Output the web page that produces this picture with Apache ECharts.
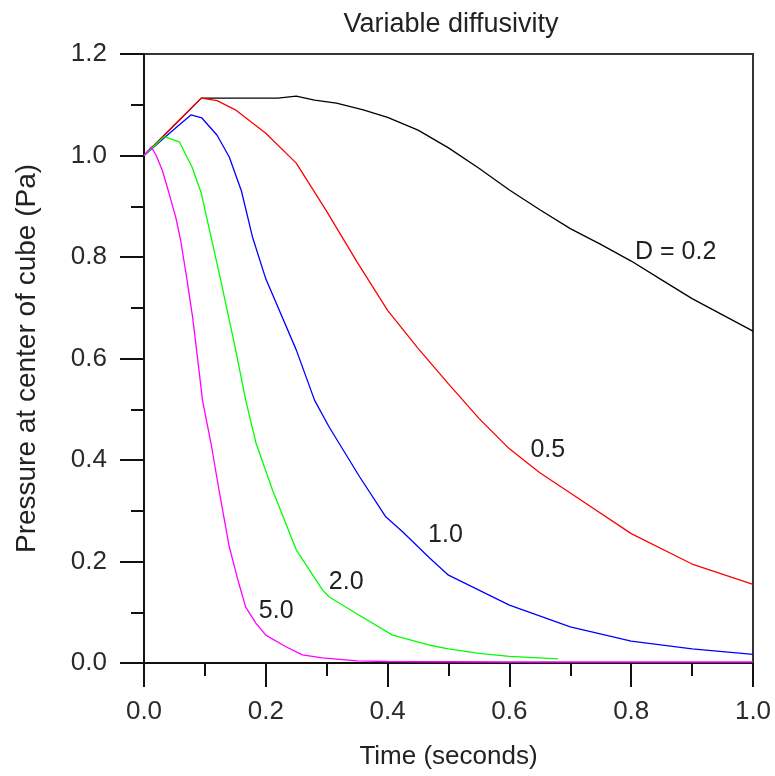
<!DOCTYPE html>
<html>
<head>
<meta charset="utf-8">
<script src="https://cdn.jsdelivr.net/npm/echarts@6/dist/echarts.min.js"></script>
<style>
  html, body { margin: 0; padding: 0; background: #fff; }
  #chart { width: 775px; height: 776px; }
</style>
</head>
<body>
<div id="chart"></div>
<script>
// time (s) / pressure (Pa) for each diffusivity
const tD02 = [0, 0.05, 0.094, 0.15, 0.22, 0.25, 0.28, 0.316, 0.36, 0.4, 0.45, 0.5, 0.55, 0.6, 0.65, 0.7, 0.75, 0.8, 0.85, 0.9, 0.95, 1.0]
const pD02 = [1.0, 1.06, 1.113, 1.113, 1.113, 1.117, 1.109, 1.103, 1.09, 1.075, 1.05, 1.015, 0.975, 0.932, 0.893, 0.856, 0.825, 0.792, 0.755, 0.718, 0.686, 0.654]

const tD05 = [0, 0.05, 0.094, 0.12, 0.15, 0.2, 0.25, 0.3, 0.35, 0.4, 0.45, 0.5, 0.55, 0.6, 0.65, 0.7, 0.8, 0.9, 1.0]
const pD05 = [1.0, 1.06, 1.113, 1.108, 1.09, 1.044, 0.985, 0.89, 0.79, 0.695, 0.62, 0.55, 0.482, 0.422, 0.375, 0.335, 0.255, 0.195, 0.155]

const tD10 = [0, 0.05, 0.077, 0.095, 0.12, 0.14, 0.16, 0.178, 0.2, 0.25, 0.28, 0.304, 0.354, 0.397, 0.425, 0.469, 0.5, 0.6, 0.7, 0.8, 0.9, 1.0]
const pD10 = [1.0, 1.052, 1.08, 1.074, 1.04, 0.997, 0.93, 0.84, 0.757, 0.617, 0.518, 0.465, 0.367, 0.288, 0.258, 0.207, 0.173, 0.114, 0.071, 0.043, 0.028, 0.017]

const tD20 = [0, 0.033, 0.058, 0.079, 0.094, 0.11, 0.125, 0.15, 0.167, 0.184, 0.211, 0.25, 0.293, 0.304, 0.348, 0.408, 0.469, 0.5, 0.55, 0.6, 0.68]
const pD20 = [1.0, 1.037, 1.027, 0.977, 0.926, 0.84, 0.76, 0.62, 0.518, 0.433, 0.341, 0.223, 0.144, 0.13, 0.098, 0.055, 0.035, 0.028, 0.019, 0.013, 0.008]

const tD50 = [0, 0.012, 0.02, 0.03, 0.041, 0.052, 0.06, 0.07, 0.08, 0.09, 0.096, 0.11, 0.124, 0.14, 0.155, 0.167, 0.184, 0.2, 0.233, 0.26, 0.293, 0.35, 0.4, 0.6, 0.8, 1.0]
const pD50 = [1.0, 1.017, 1.0, 0.971, 0.926, 0.879, 0.834, 0.76, 0.68, 0.58, 0.518, 0.433, 0.335, 0.229, 0.16, 0.11, 0.078, 0.055, 0.032, 0.016, 0.01, 0.004, 0.003, 0.002, 0.002, 0.002]

const seriesNames = ['D = 0.2', '0.5', '1.0', '2.0', '5.0']
const seriesColors = ['#000000', '#ff0000', '#0000ff', '#00ff00', '#ff00ff']
const seriesT = [tD02, tD05, tD10, tD20, tD50]
const seriesP = [pD02, pD05, pD10, pD20, pD50]

// curve labels, in data coordinates [t, p]
const labelText = ['D = 0.2', '0.5', '1.0', '2.0', '5.0']
const labelAt = [[0.873, 0.81], [0.663, 0.42], [0.495, 0.252], [0.332, 0.16], [0.217, 0.102]]

const xTicks = ['0.0', '0.2', '0.4', '0.6', '0.8', '1.0']
const yTicks = ['0.0', '0.2', '0.4', '0.6', '0.8', '1.0', '1.2']

const font = 'Liberation Sans, Arial, sans-serif'
const chart = echarts.init(document.getElementById('chart'))

const axisCommon = {
  type: 'value',
  interval: 0.2,
  nameLocation: 'middle',
  nameTextStyle: { fontFamily: font, fontSize: 26, color: '#222' },
  axisLine: { show: true, onZero: false, lineStyle: { color: '#111', width: 2 } },
  axisTick: { show: true, inside: false, length: 24, lineStyle: { color: '#111', width: 2 } },
  minorTick: { show: true, splitNumber: 2, length: 13, lineStyle: { color: '#111', width: 2 } },
  splitLine: { show: false },
  axisLabel: { fontFamily: font, fontSize: 26, color: '#2a2a2a' }
}

chart.setOption({
  animation: false,
  backgroundColor: '#fff',
  title: {
    text: 'Variable diffusivity',
    left: 446,
    textAlign: 'center',
    top: 6,
    textStyle: { fontFamily: font, fontSize: 27, fontWeight: 'normal', color: '#222' }
  },
  grid: {
    left: 144, right: 22, top: 54, bottom: 113,
    show: true, borderColor: '#333', borderWidth: 2, backgroundColor: 'transparent'
  },
  xAxis: Object.assign({}, axisCommon, {
    min: 0, max: 1.0,
    name: 'Time (seconds)',
    nameGap: 81,
    axisLabel: Object.assign({}, axisCommon.axisLabel, {
      margin: 36,
      formatter: (v) => xTicks[Math.round(v / 0.2)]
    })
  }),
  yAxis: Object.assign({}, axisCommon, {
    min: 0, max: 1.2,
    name: 'Pressure at center of cube (Pa)',
    nameGap: 103,
    nameTextStyle: { fontFamily: font, fontSize: 28, color: '#222' },
    axisLabel: Object.assign({}, axisCommon.axisLabel, {
      margin: 37,
      formatter: (v) => yTicks[Math.round(v / 0.2)]
    })
  }),
  series: seriesNames.map((name, i) => ({
    name,
    type: 'line',
    showSymbol: false,
    symbol: 'none',
    clip: true,
    lineStyle: { color: seriesColors[i], width: 1.3 },
    data: seriesT[i].map((t, j) => [t, seriesP[i][j]])
  }))
})

chart.setOption({
  graphic: labelText.map((txt, i) => {
    const pt = chart.convertToPixel({ gridIndex: 0 }, labelAt[i])
    return {
      type: 'text',
      x: pt[0],
      y: pt[1],
      style: {
        text: txt,
        fontFamily: font,
        fontSize: 25,
        fill: '#222',
        align: 'center',
        verticalAlign: 'middle'
      }
    }
  })
})
</script>
</body>
</html>
